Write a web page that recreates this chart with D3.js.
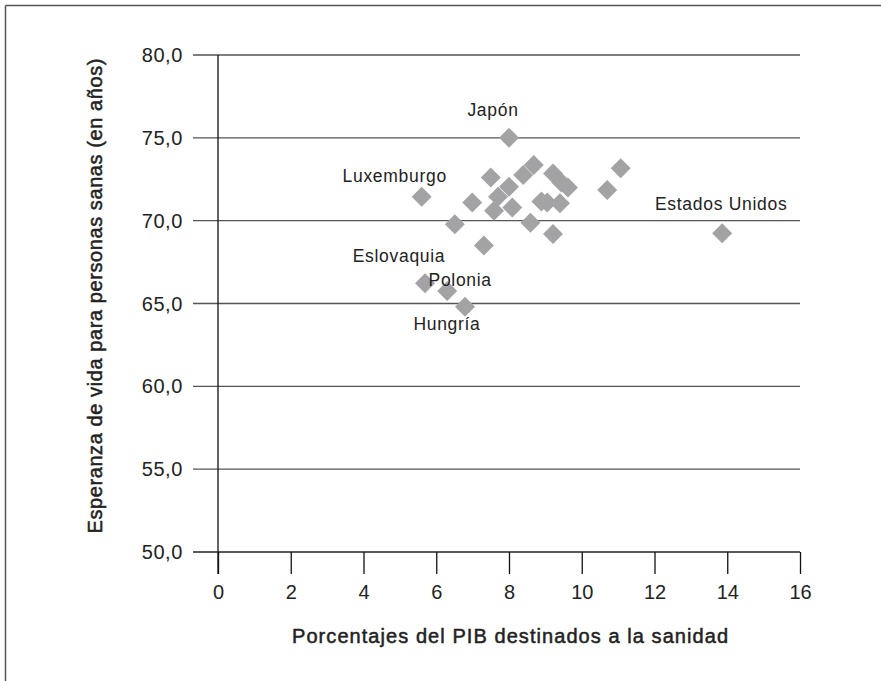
<!DOCTYPE html>
<html>
<head>
<meta charset="utf-8">
<script src="https://cdn.jsdelivr.net/npm/d3@7/dist/d3.min.js"></script>
<style>
  html, body { margin: 0; padding: 0; background: #fff; }
  svg { display: block; }
</style>
</head>
<body>
<svg id="chart" width="881" height="681"></svg>
<script>
// ---- Data ----
const countries = ["Japón","Luxemburgo","Eslovaquia","Polonia","Hungría","Estados Unidos",
  "","","","","","","","","","","","","","","","","","","",""];
const gdpShare = [8.0, 5.6, 5.69, 6.3, 6.79, 13.86,
  7.5, 8.68, 8.39, 8.0, 7.7, 6.99, 7.59, 8.09, 9.21, 9.44, 9.62, 8.89, 9.05, 9.4, 10.7, 11.07, 6.51, 8.59, 9.21, 7.31];
const healthyLifeYears = [75.0, 71.45, 66.22, 65.76, 64.8, 69.24,
  72.6, 73.36, 72.76, 72.05, 71.45, 71.1, 70.6, 70.8, 72.85, 72.3, 72.0, 71.15, 71.1, 71.05, 71.85, 73.16, 69.78, 69.88, 69.2, 68.5];
const xTicks = [0, 2, 4, 6, 8, 10, 12, 14, 16];
const yTicks = [50, 55, 60, 65, 70, 75, 80];
const xTitle = "Porcentajes del PIB destinados a la sanidad";
const yTitle = "Esperanza de vida para personas sanas (en años)";

// label offsets (styling, relative to marker)
const labelOffsets = {
  "Japón": [-16, -22],
  "Luxemburgo": [-27, -15],
  "Eslovaquia": [-26, -21],
  "Polonia": [13, -5],
  "Hungría": [-18, 23],
  "Estados Unidos": [-1, -23]
};

const points = gdpShare.map((x, i) => ({ x, y: healthyLifeYears[i], name: countries[i] }));

const svg = d3.select("#chart");
const font = "'Liberation Sans', Arial, Helvetica, sans-serif";

// frame (top and left border only visible)
svg.append("line").attr("x1", 5.5).attr("x2", 881).attr("y1", 5.5).attr("y2", 5.5)
  .attr("stroke", "#555").attr("stroke-width", 1.5);
svg.append("line").attr("x1", 5.5).attr("x2", 5.5).attr("y1", 5.5).attr("y2", 681)
  .attr("stroke", "#555").attr("stroke-width", 1.5);

const x = d3.scaleLinear().domain([0, 16]).range([218, 800]);
const y = d3.scaleLinear().domain([50, 80]).range([552, 55]);

// horizontal gridlines
svg.append("g").selectAll("line").data(yTicks).join("line")
  .attr("x1", 193).attr("x2", x(16))
  .attr("y1", d => y(d)).attr("y2", d => y(d))
  .attr("stroke", d => d === 50 ? "#222" : "#555").attr("stroke-width", 1.3);

// y tick labels
svg.append("g").selectAll("text").data(yTicks).join("text")
  .attr("x", 183).attr("y", d => y(d) + 7)
  .attr("text-anchor", "end")
  .attr("font-family", font).attr("font-size", 20).attr("letter-spacing", 0.6)
  .attr("fill", "#222")
  .text(d => d3.format(".1f")(d).replace(".", ","));

// y axis vertical line
svg.append("line").attr("x1", x(0)).attr("x2", x(0)).attr("y1", y(80)).attr("y2", y(50) + 22)
  .attr("stroke", "#111").attr("stroke-width", 1.3);

// x axis ticks
const xAxis = d3.axisBottom(x).tickValues(xTicks).tickSize(22).tickPadding(6).tickFormat(d3.format("d"));
const gx = svg.append("g").attr("transform", `translate(0,${y(50)})`).call(xAxis);
gx.select(".domain").remove();
gx.selectAll(".tick line").attr("stroke", "#111").attr("stroke-width", 1.3);
gx.selectAll(".tick text").attr("font-family", font).attr("font-size", 20)
  .attr("fill", "#222").attr("dy", "0.95em");

// markers
svg.append("g").selectAll("path").data(points).join("path")
  .attr("d", d3.symbol().type(d3.symbolSquare).size(200))
  .attr("transform", d => `translate(${x(d.x)},${y(d.y)}) rotate(45)`)
  .attr("fill", "#a3a3a6");

// labels
svg.append("g").selectAll("text").data(points.filter(d => d.name)).join("text")
  .attr("x", d => x(d.x) + labelOffsets[d.name][0])
  .attr("y", d => y(d.y) + labelOffsets[d.name][1])
  .attr("text-anchor", "middle")
  .attr("font-family", font).attr("font-size", 17.5).attr("letter-spacing", 0.7)
  .attr("fill", "#222")
  .text(d => d.name);

// axis titles
svg.append("text").attr("x", 510).attr("y", 643).attr("text-anchor", "middle")
  .attr("font-family", font).attr("font-size", 20)
  .attr("fill", "#222").attr("stroke", "#222").attr("stroke-width", 0.5)
  .attr("textLength", 436).attr("lengthAdjust", "spacing")
  .text(xTitle);
svg.append("text").attr("transform", "translate(102,296) rotate(-90)").attr("text-anchor", "middle")
  .attr("font-family", font).attr("font-size", 20)
  .attr("fill", "#222").attr("stroke", "#222").attr("stroke-width", 0.5)
  .attr("textLength", 475).attr("lengthAdjust", "spacing")
  .text(yTitle);
</script>
</body>
</html>
